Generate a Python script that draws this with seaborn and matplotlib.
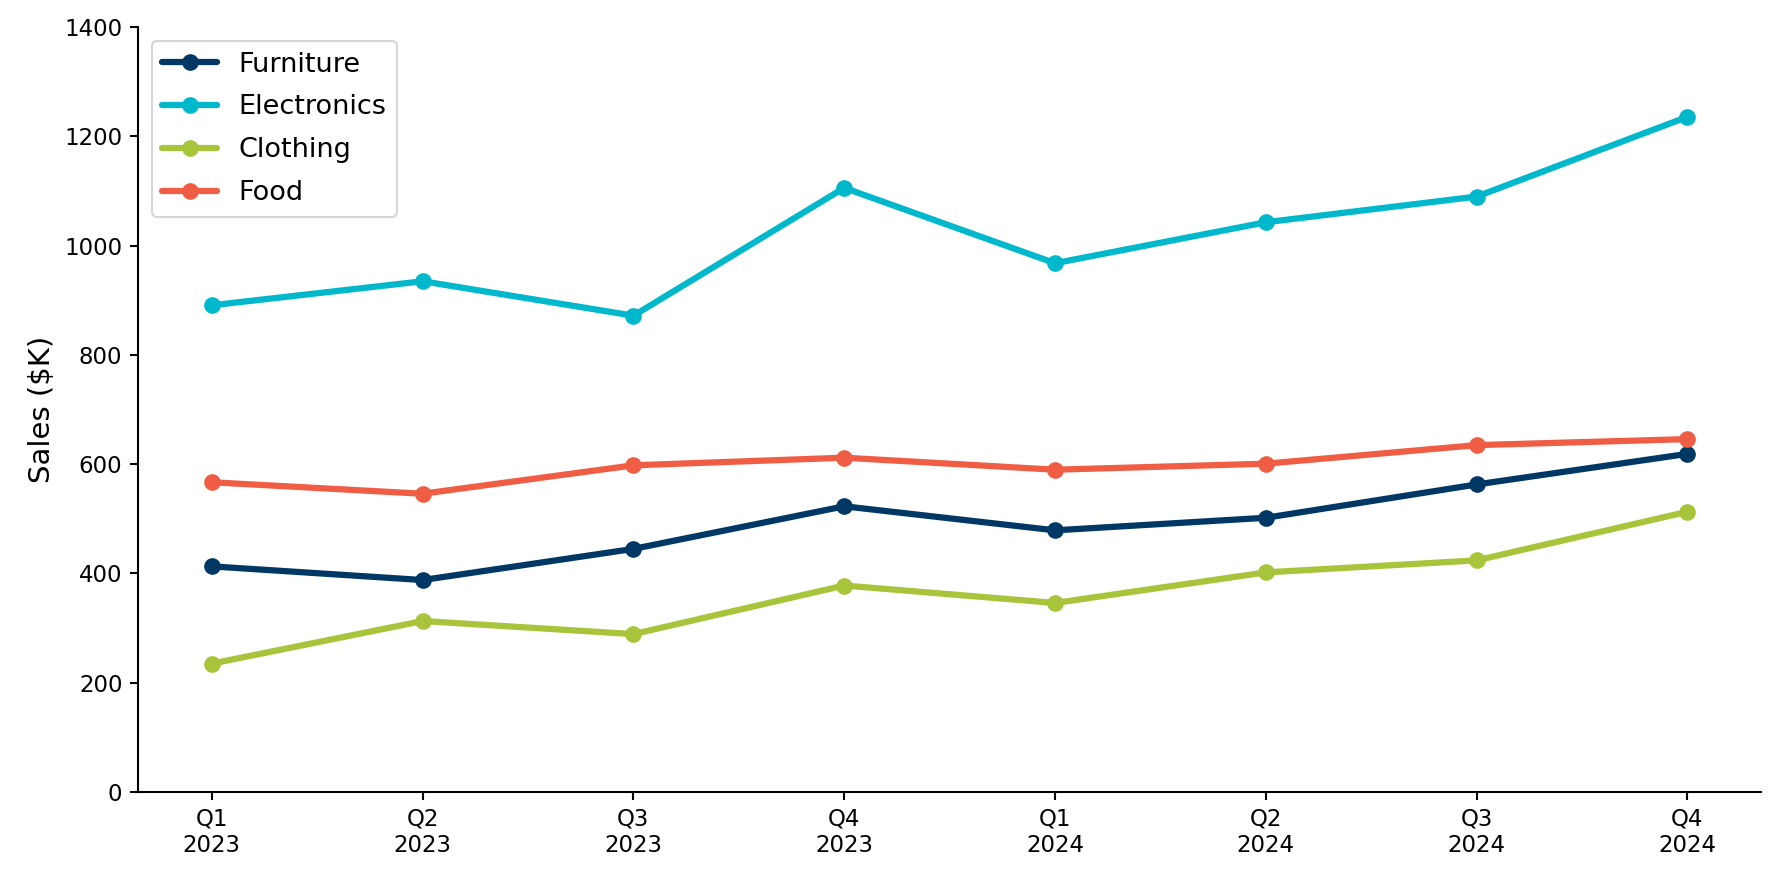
import pandas as pd
import matplotlib
matplotlib.use("Agg")
import matplotlib.pyplot as plt
import seaborn as sns

quarters = ['Q1\n2023', 'Q2\n2023', 'Q3\n2023', 'Q4\n2023',
            'Q1\n2024', 'Q2\n2024', 'Q3\n2024', 'Q4\n2024']
furniture = [413, 388, 445, 523, 479, 502, 563, 619]
electronics = [891, 935, 872, 1106, 968, 1043, 1090, 1236]
clothing = [235, 313, 289, 378, 346, 402, 424, 513]
food = [567, 546, 598, 612, 590, 601, 635, 646]

categories = ['Furniture', 'Electronics', 'Clothing', 'Food']
colors = ['#003865', '#00B8CC', '#A8C43A', '#F05D45']


def build_frame():
    rows = []
    for name, vals in zip(categories, [furniture, electronics, clothing, food]):
        for i, v in enumerate(vals):
            rows.append({'idx': i, 'sales': v, 'category': name})
    return pd.DataFrame(rows)


df = build_frame()

sns.set_style('white')
plt.rcParams['text.color'] = 'black'
plt.rcParams['axes.labelcolor'] = 'black'
plt.rcParams['xtick.color'] = 'black'
plt.rcParams['ytick.color'] = 'black'

fig, ax = plt.subplots(figsize=(1779 / 150, 879 / 150), dpi=150)
fig.subplots_adjust(left=0.0776, right=0.990, top=0.969, bottom=0.099)

sns.lineplot(data=df, x='idx', y='sales', hue='category', hue_order=categories,
             palette=dict(zip(categories, colors)), marker='o', markersize=8,
             markeredgewidth=0, linewidth=3, ax=ax)

ax.set_xticks(range(len(quarters)))
ax.set_xticklabels(quarters, fontsize=11)
ax.set_xlim(-0.35, 7.35)
ax.set_ylim(0, 1400)
ax.set_yticks(range(0, 1401, 200))
ax.tick_params(axis='y', labelsize=11)
ax.tick_params(axis='both', length=4, width=1, color='black', left=True, bottom=True)
ax.set_xlabel('')
ax.set_ylabel('Sales ($K)', fontsize=14)
for s in ['left', 'bottom']:
    ax.spines[s].set_color('black')
    ax.spines[s].set_linewidth(1)
sns.despine(ax=ax)
ax.legend(loc='upper left', fontsize=13, frameon=True, labelspacing=0.62)

fig.savefig('out.png', dpi=150)
